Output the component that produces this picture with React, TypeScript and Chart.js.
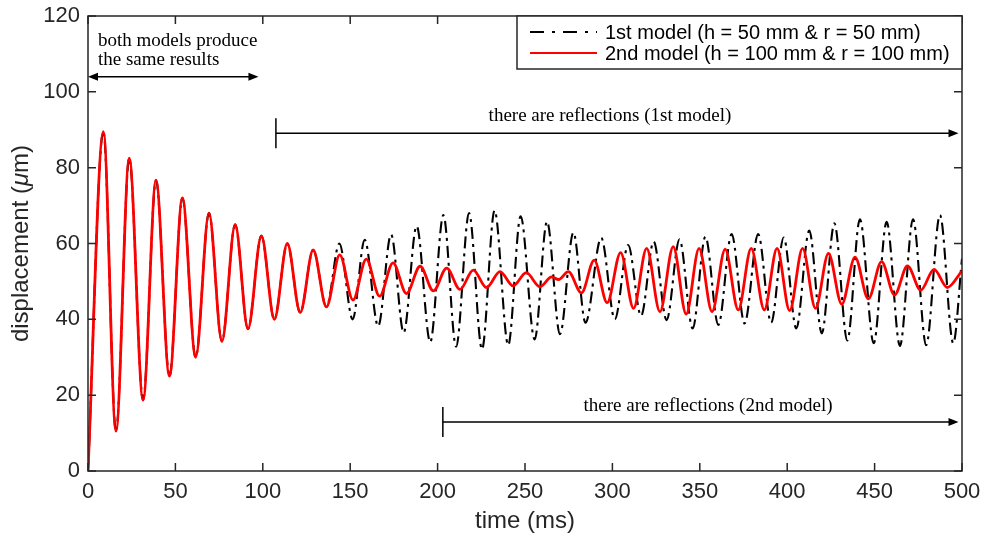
import React, { useEffect, useRef } from "react";
import { Chart, registerables } from "chart.js";

Chart.register(...registerables);

// ---------- axis ticks ----------
const xTickValues = [0, 50, 100, 150, 200, 250, 300, 350, 400, 450, 500];
const yTickValues = [0, 20, 40, 60, 80, 100, 120];

// ---------- 2nd model (red): time (ms) / displacement (µm) at extrema ----------
const redTime = [
  0, 8.8, 16, 23.6, 31.5, 38.9, 46.6, 54, 61.6, 69.2, 76.6, 84.2, 91.5, 99.2, 106.6, 114, 121.4, 128.8, 136.4,
  144, 151.6, 159.2, 166.8, 174.5, 182.2, 190, 197.6, 205.2, 212.8, 220.4, 228, 235.7, 243.2, 250.7, 258.5,
  265.3, 269.2, 274.8, 282.3, 289.6, 297, 304.7, 312.1, 319.6, 327.2, 334.8, 342.2, 349.6, 357, 364.5, 372,
  379.4, 386.9, 394.2, 401.4, 408.8, 416.2, 423.6, 431.2, 438.8, 446.4, 454, 461.4, 468.8, 476.4, 484, 491.6, 500,
];
const redDisp = [
  0, 89.5, 10.5, 82.5, 18.7, 76.7, 25, 72, 30, 68, 34.2, 65, 37.5, 62, 40, 60, 41.8, 58.3, 43.3,
  57, 45.1, 55.9, 46.1, 54.9, 46.8, 54, 47.5, 53.5, 47.9, 53, 48.4, 52.6, 48.8, 52.3, 48.6,
  51.2, 50.5, 52.6, 47, 55.6, 44.4, 57.6, 42.9, 58.7, 42, 59.2, 41.4, 58.7, 42, 58.5, 42.5,
  58.7, 42.5, 58.7, 42.3, 58.7, 42.9, 57.4, 44, 56.4, 45.4, 55.2, 46.4, 54.1, 47.7, 53.2, 48.4, 52.8,
];

// ---------- 1st model (black dash-dot) ----------
const blackTime = [
  0, 8.8, 16, 23.6, 31.5, 38.9, 46.6, 54, 61.6, 69.2, 76.6, 84.2, 91.5, 99.2, 106.6, 114, 121.4, 128.8, 136.4,
  143.8, 151.4, 158.3, 166, 173.4, 180.6, 188, 195.8, 203.3, 210.6, 218, 225.4, 232.6, 240.4, 247.5, 255.5,
  262.6, 270, 277.7, 284.6, 293.6, 301.4, 309, 316.4, 323.6, 331, 338.4, 345.9, 353.2, 360.6, 368.2, 375.6,
  383.4, 390.8, 398, 405.2, 412.6, 419.8, 427, 434.4, 441.6, 449.5, 456.9, 464.5, 472, 479.5, 487.4, 495, 500,
];
const blackDisp = [
  0, 89.5, 10.5, 82.5, 18.7, 76.7, 25, 72, 30, 68, 34.2, 65, 37.5, 62, 40, 60, 41.8, 58.3, 43.3,
  60, 40, 61, 38.2, 62.4, 36.5, 64.6, 34, 67.5, 32.8, 68, 32.1, 68.7, 33.2, 67.2, 34.7,
  65.8, 36.1, 62.9, 39.1, 61.5, 40, 59.6, 40.9, 60.5, 39.8, 61.1, 37.6, 61.8, 38.5, 62.5, 38.9,
  62.5, 39.1, 61.6, 37.6, 63.4, 36.3, 65.3, 34.4, 66.4, 33.7, 65.7, 33, 66.4, 33.2, 67.5, 33.7, 56,
];

// ---------- text ----------
const seriesLabels = ["1st model (h = 50 mm & r = 50 mm)", "2nd model (h = 100 mm & r = 100 mm)"];
const xTitle = "time (ms)";
const yTitleParts = ["displacement (", "\u03bc", "m)"];

// ---------- annotations (data coordinates) ----------
const noteSameLines = ["both models produce", "the same results"];
const noteSameTextX = 5.7;
const noteSameTextY = [113.4, 108.5];
const noteSameArrow = { from: 0, to: 97.5, y: 104 };

const reflectLabels = ["there are reflections (1st model)", "there are reflections (2nd model)"];
const reflectTextX = [298.6, 354.7];
const reflectTextY = [93.6, 17.2];
const reflectArrowFrom = [107.5, 203];
const reflectArrowTo = [498, 498];
const reflectArrowY = [89.1, 12.9];

const AXIS_COLOR = "#262626";
const SANS = "'Liberation Sans', Arial, Helvetica, sans-serif";
const SERIF = "'Liberation Serif', 'Times New Roman', serif";

function arrowHead(ctx: CanvasRenderingContext2D, x: number, y: number, dir: number) {
  const len = 10;
  const half = 4;
  ctx.beginPath();
  ctx.moveTo(x, y);
  ctx.lineTo(x - dir * len, y - half);
  ctx.lineTo(x - dir * len, y + half);
  ctx.closePath();
  ctx.fill();
}

const decorPlugin = {
  id: "decor",
  afterDatasetsDraw(chart: any) {
    const { ctx, chartArea: a } = chart;
    const xs = chart.scales.x;
    const ys = chart.scales.y;
    ctx.save();

    // frame
    ctx.strokeStyle = AXIS_COLOR;
    ctx.lineWidth = 1.5;
    ctx.setLineDash([]);
    ctx.strokeRect(a.left, a.top, a.right - a.left, a.bottom - a.top);

    // inward ticks on all sides
    const tl = 8;
    ctx.beginPath();
    for (const v of xTickValues) {
      const px = xs.getPixelForValue(v);
      ctx.moveTo(px, a.bottom);
      ctx.lineTo(px, a.bottom - tl);
      ctx.moveTo(px, a.top);
      ctx.lineTo(px, a.top + tl);
    }
    for (const v of yTickValues) {
      const py = ys.getPixelForValue(v);
      ctx.moveTo(a.left, py);
      ctx.lineTo(a.left + tl, py);
      ctx.moveTo(a.right, py);
      ctx.lineTo(a.right - tl, py);
    }
    ctx.stroke();

    // annotations
    ctx.fillStyle = "#000";
    ctx.strokeStyle = "#000";
    ctx.lineWidth = 1.5;
    ctx.font = `19px ${SERIF}`;
    ctx.textBaseline = "middle";
    ctx.textAlign = "left";
    noteSameLines.forEach((line, i) => {
      ctx.fillText(line, xs.getPixelForValue(noteSameTextX), ys.getPixelForValue(noteSameTextY[i]));
    });
    {
      const x1 = xs.getPixelForValue(noteSameArrow.from);
      const x2 = xs.getPixelForValue(noteSameArrow.to);
      const yy = ys.getPixelForValue(noteSameArrow.y);
      ctx.beginPath();
      ctx.moveTo(x1 + 4, yy);
      ctx.lineTo(x2 - 4, yy);
      ctx.stroke();
      arrowHead(ctx, x1, yy, -1);
      arrowHead(ctx, x2, yy, 1);
    }
    ctx.textAlign = "center";
    reflectLabels.forEach((label, i) => {
      ctx.fillText(label, xs.getPixelForValue(reflectTextX[i]), ys.getPixelForValue(reflectTextY[i]));
      const x1 = xs.getPixelForValue(reflectArrowFrom[i]);
      const x2 = xs.getPixelForValue(reflectArrowTo[i]);
      const yy = ys.getPixelForValue(reflectArrowY[i]);
      ctx.beginPath();
      ctx.moveTo(x1, yy);
      ctx.lineTo(x2 - 4, yy);
      ctx.moveTo(x1, yy - 15);
      ctx.lineTo(x1, yy + 15);
      ctx.stroke();
      arrowHead(ctx, x2, yy, 1);
    });

    // legend box
    const lx = 517, ly = a.top, lw = a.right - 517, lh = 53;
    ctx.fillStyle = "#fff";
    ctx.fillRect(lx, ly, lw, lh);
    ctx.strokeStyle = AXIS_COLOR;
    ctx.lineWidth = 1.5;
    ctx.strokeRect(lx, ly, lw, lh);
    const rows = [ly + 16, ly + 37];
    const colors = ["#000", "#ff0000"];
    const dashes = [[14, 8, 3, 8], []];
    const widths = [2.2, 2];
    ctx.font = `20px ${SANS}`;
    ctx.textAlign = "left";
    ctx.textBaseline = "middle";
    rows.forEach((ry, i) => {
      ctx.strokeStyle = colors[i];
      ctx.lineWidth = widths[i];
      ctx.setLineDash(dashes[i]);
      ctx.beginPath();
      ctx.moveTo(530, ry);
      ctx.lineTo(597, ry);
      ctx.stroke();
      ctx.setLineDash([]);
      ctx.fillStyle = "#000";
      ctx.fillText(seriesLabels[i], 605, ry + 1);
    });

    // axis titles
    ctx.fillStyle = AXIS_COLOR;
    ctx.font = `24px ${SANS}`;
    ctx.textAlign = "center";
    ctx.textBaseline = "middle";
    ctx.fillText(xTitle, (a.left + a.right) / 2, 521);

    ctx.translate(21, (a.top + a.bottom) / 2);
    ctx.rotate(-Math.PI / 2);
    const fonts = [`24px ${SANS}`, `italic 24px ${SANS}`, `24px ${SANS}`];
    let total = 0;
    const ws = yTitleParts.map((p, i) => {
      ctx.font = fonts[i];
      const w = ctx.measureText(p).width;
      total += w;
      return w;
    });
    let cx = -total / 2;
    ctx.textAlign = "left";
    yTitleParts.forEach((p, i) => {
      ctx.font = fonts[i];
      ctx.fillText(p, cx, 0);
      cx += ws[i];
    });

    ctx.restore();
  },
};

export default function App() {
  const canvasRef = useRef<HTMLCanvasElement | null>(null);

  useEffect(() => {
    const canvas = canvasRef.current;
    if (!canvas) return;
    const redData = redTime.map((t, i) => ({ x: t, y: redDisp[i] }));
    const blackData = blackTime.map((t, i) => ({ x: t, y: blackDisp[i] }));

    const chart = new Chart(canvas, {
      type: "line",
      data: {
        datasets: [
          {
            label: seriesLabels[0],
            data: blackData,
            borderColor: "#000000",
            borderWidth: 2.1,
            borderDash: [12, 5, 3, 5],
            pointRadius: 0,
            cubicInterpolationMode: "monotone",
            fill: false,
            order: 1,
          },
          {
            label: seriesLabels[1],
            data: redData,
            borderColor: "#ff0000",
            borderWidth: 2.8,
            pointRadius: 0,
            cubicInterpolationMode: "monotone",
            fill: false,
            order: 0,
          },
        ],
      },
      options: {
        animation: false,
        responsive: false,
        events: [],
        layout: { padding: { top: 16, right: 20, left: 0, bottom: 0 } },
        plugins: { legend: { display: false }, tooltip: { enabled: false } },
        scales: {
          x: {
            type: "linear",
            min: 0,
            max: 500,
            grid: { display: true, drawOnChartArea: false, drawTicks: false },
            border: { display: false },
            ticks: {
              stepSize: 50,
              padding: 8,
              maxRotation: 0,
              color: AXIS_COLOR,
              font: { family: SANS, size: 22 },
            },
            afterFit: (s: any) => {
              s.height = 67;
              s.paddingLeft = 0;
              s.paddingRight = 0;
            },
          },
          y: {
            type: "linear",
            min: 0,
            max: 120,
            grid: { display: true, drawOnChartArea: false, drawTicks: false },
            border: { display: false },
            ticks: {
              stepSize: 20,
              padding: 8,
              color: AXIS_COLOR,
              font: { family: SANS, size: 22 },
            },
            afterFit: (s: any) => {
              s.width = 88;
              s.paddingTop = 0;
              s.paddingBottom = 0;
            },
          },
        },
      } as any,
      plugins: [decorPlugin],
    });
    return () => chart.destroy();
  }, []);

  return (
    <div style={{ position: "absolute", left: 0, top: 0, width: 982, height: 538, background: "#fff" }}>
      <canvas ref={canvasRef} width={982} height={538} style={{ display: "block" }} />
    </div>
  );
}
